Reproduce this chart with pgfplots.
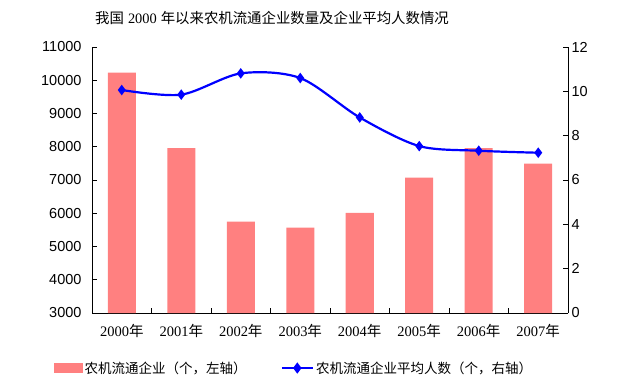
\documentclass[border=0pt]{standalone}
\usepackage{pgfplots}
\pgfplotsset{compat=1.18}
\usepackage{fontspec}
\setmainfont{Liberation Sans}
\newfontfamily\cjk{Noto Sans CJK SC}
\newfontfamily\serifdig{Liberation Serif}
\definecolor{barred}{RGB}{255,128,128}
\definecolor{lineblue}{RGB}{0,0,255}
\newcommand{\yr}[1]{{\serifdig #1}{\cjk 年}}
\pgfplotsset{
  barleg/.style={legend image code/.code={\fill[##1] (0pt,-5pt) rectangle (29pt,5pt);}},
  lineleg/.style={legend image code/.code={\draw[mark repeat=2,mark phase=2,##1] plot coordinates {(0pt,0pt) (15.5pt,0pt) (31pt,0pt)};}},
}
\begin{document}
\begin{tikzpicture}[x=1pt,y=1pt]
\useasboundingbox (0,0) rectangle (620,386);
\node[font=\fontsize{14.4}{16}\selectfont] at (272,368) {{\cjk 我国} {\serifdig 2000} {\cjk 年以来农机流通企业数量及企业平均人数情况}};
\begin{axis}[
  at={(92pt,73pt)}, anchor=south west, scale only axis,
  width=476pt, height=266pt,
  xmin=-0.5, xmax=7.5, ymin=3000, ymax=11000,
  ytick={3000,4000,...,11000}, scaled y ticks=false,
  axis x line*=bottom, axis y line*=left,
  axis line style={line width=0.9pt,-},
  every tick/.style={black, line width=0.9pt},
  major tick length=5pt,
  xtick={-0.5,0.5,...,7.5}, x tick label as interval,
  xticklabels={\yr{2000},\yr{2001},\yr{2002},\yr{2003},\yr{2004},\yr{2005},\yr{2006},\yr{2007}},
  tick label style={font=\fontsize{14.5}{16}\selectfont},
  xticklabel style={yshift=-8pt},
  /pgf/number format/assume math mode=true,
  yticklabel style={xshift=-7pt, /pgf/number format/1000 sep={}, /pgf/number format/fixed},
  legend style={at={(0.424,-0.207)}, anchor=center, draw=none, legend columns=2,
    font=\fontsize{13.5}{16}\selectfont\cjk,
    /tikz/every even column/.append style={column sep=32pt},
    /tikz/every odd column/.append style={column sep=0pt}},
]
\addplot[ybar, bar width=28pt, fill=barred, draw=none, barleg]
  coordinates {(0,10230) (1,7960) (2,5750) (3,5565) (4,6015) (5,7070) (6,7960) (7,7490)};
\addlegendentry{农机流通企业（个，左轴）}
\addlegendimage{lineblue, line width=2.6pt, mark=diamond*, mark size=3.5pt, lineleg}
\addlegendentry{农机流通企业平均人数（个，右轴）}
\end{axis}
\begin{axis}[
  at={(92pt,73pt)}, anchor=south west, scale only axis,
  width=476pt, height=266pt,
  xmin=-0.5, xmax=7.5, ymin=0, ymax=12,
  ytick={0,2,...,12},
  axis x line=none, axis y line*=right,
  axis line style={line width=0.9pt,-},
  every tick/.style={black, line width=0.9pt},
  major tick length=5pt,
  tick label style={font=\fontsize{14.5}{16}\selectfont},
  /pgf/number format/assume math mode=true,
]
\addplot[lineblue, line width=2.2pt, smooth, mark=diamond*, mark size=3.5pt]
  coordinates {(0,10.06) (1,9.85) (2,10.81) (3,10.6) (4,8.82) (5,7.53) (6,7.32) (7,7.23)};
\end{axis}
\end{tikzpicture}
\end{document}
